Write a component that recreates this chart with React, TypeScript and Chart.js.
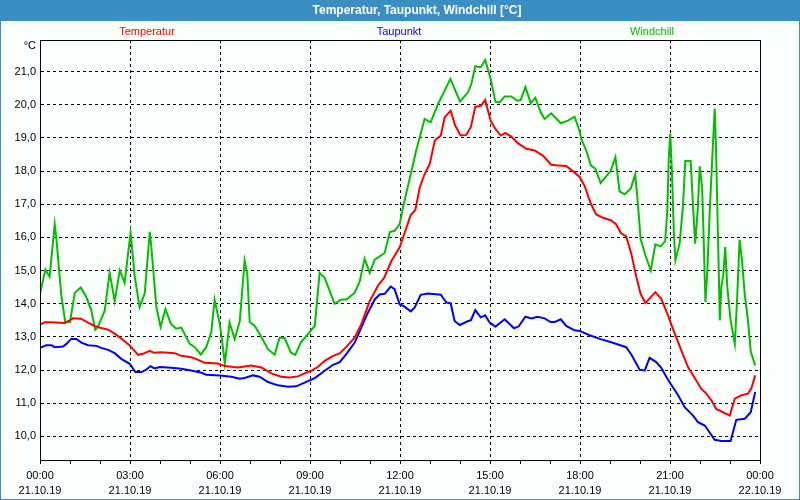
import React, { useEffect, useRef } from "react";
import { Chart, registerables } from "chart.js";

Chart.register(...registerables);

const chartTitle = "Temperatur, Taupunkt, Windchill [°C]";
const seriesNames = ["Temperatur", "Taupunkt", "Windchill"];
const unitLabel = "°C";
const dayStart = "21.10.19";
const dayEnd = "22.10.19";

const tempHours = [0, 0.16, 0.38, 0.82, 0.99, 1.1, 1.36, 1.6, 1.82, 2.04, 2.27, 2.49, 2.71, 2.99, 3.16, 3.27, 3.43, 3.66, 3.8, 4.04, 4.49, 4.71, 5.04, 5.27, 5.49, 5.93, 6.16, 6.6, 7.04, 7.38, 7.71, 8.04, 8.32, 8.6, 8.82, 9.04, 9.27, 9.49, 9.77, 9.99, 10.21, 10.49, 10.71, 10.99, 11.27, 11.47, 11.71, 11.99, 12.16, 12.36, 12.51, 12.66, 12.82, 12.99, 13.16, 13.36, 13.49, 13.69, 13.84, 14.02, 14.21, 14.36, 14.51, 14.69, 14.84, 15.02, 15.18, 15.36, 15.51, 15.71, 15.93, 16.21, 16.49, 16.77, 17.04, 17.27, 17.54, 17.77, 17.99, 18.16, 18.36, 18.54, 18.77, 19.04, 19.21, 19.36, 19.54, 19.71, 19.88, 20.02, 20.18, 20.36, 20.51, 20.71, 20.91, 21.16, 21.38, 21.6, 21.82, 22.04, 22.21, 22.38, 22.54, 22.77, 22.99, 23.16, 23.38, 23.6, 23.71, 23.84];
const tempValues = [13.37, 13.44, 13.44, 13.42, 13.5, 13.56, 13.55, 13.43, 13.33, 13.27, 13.22, 13.1, 12.95, 12.74, 12.57, 12.46, 12.49, 12.58, 12.52, 12.54, 12.51, 12.43, 12.39, 12.31, 12.22, 12.2, 12.12, 12.08, 12.14, 12.08, 11.9, 11.8, 11.78, 11.81, 11.9, 11.98, 12.1, 12.28, 12.43, 12.5, 12.7, 12.98, 13.38, 14.08, 14.55, 14.78, 15.28, 15.7, 16.15, 16.68, 16.82, 17.51, 17.91, 18.21, 18.92, 19.07, 19.62, 19.82, 19.37, 19.07, 19.09, 19.32, 19.94, 19.96, 20.14, 19.52, 19.27, 19.07, 19.15, 19.04, 18.84, 18.67, 18.62, 18.46, 18.19, 18.17, 18.15, 17.99, 17.82, 17.54, 17.02, 16.69, 16.59, 16.51, 16.39, 16.13, 16.03, 15.51, 14.8, 14.3, 14.02, 14.2, 14.35, 14.15, 13.7, 13.1, 12.59, 12.09, 11.77, 11.44, 11.29, 11.09, 10.83, 10.73, 10.63, 11.14, 11.24, 11.29, 11.44, 11.84];

const dewHours = [0, 0.21, 0.38, 0.49, 0.77, 0.88, 1.04, 1.21, 1.38, 1.6, 1.88, 2.04, 2.27, 2.49, 2.71, 2.99, 3.18, 3.38, 3.54, 3.68, 3.82, 3.99, 4.38, 4.71, 5.04, 5.38, 5.54, 5.99, 6.38, 6.66, 6.82, 7.1, 7.32, 7.6, 7.93, 8.27, 8.54, 8.82, 9.16, 9.49, 9.77, 9.99, 10.21, 10.49, 10.71, 10.93, 11.16, 11.32, 11.49, 11.69, 11.82, 11.99, 12.1, 12.36, 12.49, 12.69, 12.93, 13.36, 13.54, 13.69, 13.82, 13.99, 14.27, 14.36, 14.51, 14.69, 14.84, 14.99, 15.18, 15.49, 15.8, 15.96, 16.18, 16.38, 16.58, 16.82, 17.02, 17.16, 17.36, 17.54, 17.82, 17.99, 18.32, 18.66, 19.04, 19.54, 19.71, 19.99, 20.16, 20.32, 20.54, 20.71, 20.88, 21.02, 21.27, 21.49, 21.77, 21.93, 22.16, 22.49, 22.71, 23.02, 23.21, 23.49, 23.69, 23.84];
const dewValues = [12.67, 12.75, 12.75, 12.69, 12.71, 12.79, 12.94, 12.94, 12.83, 12.75, 12.73, 12.67, 12.61, 12.51, 12.34, 12.19, 11.94, 11.94, 12.01, 12.12, 12.05, 12.09, 12.07, 12.04, 11.99, 11.92, 11.86, 11.84, 11.8, 11.74, 11.76, 11.84, 11.8, 11.64, 11.54, 11.5, 11.51, 11.62, 11.76, 11.98, 12.16, 12.24, 12.48, 12.83, 13.28, 13.73, 14.13, 14.28, 14.3, 14.52, 14.44, 13.98, 13.94, 13.77, 13.89, 14.27, 14.31, 14.27, 14.04, 14.01, 13.48, 13.36, 13.48, 13.5, 13.81, 13.59, 13.65, 13.43, 13.31, 13.53, 13.26, 13.32, 13.61, 13.56, 13.61, 13.56, 13.45, 13.45, 13.53, 13.33, 13.2, 13.18, 13.05, 12.94, 12.84, 12.69, 12.47, 12.01, 11.99, 12.37, 12.24, 12.07, 11.79, 11.59, 11.24, 10.88, 10.63, 10.43, 10.33, 9.9, 9.86, 9.86, 10.5, 10.53, 10.73, 11.34];

const chillHours = [0, 0.18, 0.32, 0.49, 0.54, 0.71, 0.84, 1.0, 1.16, 1.36, 1.54, 1.71, 1.84, 1.93, 2.16, 2.32, 2.49, 2.66, 2.82, 3.02, 3.16, 3.32, 3.49, 3.66, 3.71, 3.88, 4.02, 4.18, 4.36, 4.54, 4.71, 4.99, 5.16, 5.36, 5.54, 5.71, 5.82, 5.99, 6.07, 6.16, 6.32, 6.49, 6.66, 6.82, 6.91, 6.99, 7.16, 7.38, 7.6, 7.82, 7.99, 8.16, 8.36, 8.51, 8.69, 8.93, 9.16, 9.32, 9.49, 9.82, 10.04, 10.21, 10.49, 10.66, 10.82, 10.99, 11.16, 11.49, 11.66, 11.82, 11.99, 12.1, 12.36, 12.54, 12.82, 13.02, 13.27, 13.68, 14.0, 14.27, 14.38, 14.51, 14.69, 14.84, 15.02, 15.18, 15.32, 15.49, 15.71, 15.91, 16.02, 16.18, 16.36, 16.51, 16.69, 16.82, 17.04, 17.36, 17.6, 17.82, 17.99, 18.04, 18.21, 18.36, 18.51, 18.69, 19.02, 19.18, 19.32, 19.49, 19.69, 19.84, 19.93, 20.02, 20.18, 20.36, 20.51, 20.69, 20.84, 20.91, 20.96, 21.01, 21.07, 21.13, 21.18, 21.32, 21.43, 21.51, 21.69, 21.77, 21.84, 21.93, 21.99, 22.07, 22.13, 22.18, 22.24, 22.32, 22.4, 22.49, 22.53, 22.6, 22.66, 22.71, 22.78, 22.84, 22.91, 23.02, 23.16, 23.24, 23.32, 23.4, 23.49, 23.6, 23.69, 23.84];
const chillValues = [14.3, 15.03, 14.81, 16.4, 16.02, 14.26, 13.45, 13.45, 14.33, 14.49, 14.21, 13.8, 13.22, 13.3, 13.8, 14.93, 14.08, 15.01, 14.63, 16.14, 14.81, 13.9, 14.31, 16.17, 15.72, 13.9, 13.3, 13.84, 13.4, 13.25, 13.28, 12.79, 12.69, 12.47, 12.69, 13.15, 14.12, 13.4, 12.88, 12.2, 13.43, 12.93, 13.48, 15.3, 14.88, 13.45, 13.33, 13.0, 12.63, 12.46, 12.98, 12.96, 12.53, 12.46, 12.83, 13.08, 13.33, 14.93, 14.78, 14.0, 14.13, 14.13, 14.33, 14.68, 15.36, 14.93, 15.33, 15.53, 16.16, 16.2, 16.4, 16.91, 17.91, 18.62, 19.57, 19.47, 20.02, 20.78, 20.09, 20.38, 20.63, 21.16, 21.13, 21.35, 20.78, 20.09, 20.07, 20.25, 20.25, 20.12, 20.14, 20.53, 20.04, 20.21, 19.77, 19.57, 19.74, 19.44, 19.52, 19.64, 19.2, 18.97, 18.62, 18.17, 18.07, 17.64, 18.0, 18.42, 17.39, 17.3, 17.47, 17.9, 17.02, 15.96, 15.46, 15.0, 15.79, 15.73, 15.89, 16.81, 18.42, 19.13, 17.82, 16.11, 15.31, 15.81, 16.91, 18.3, 18.3, 16.91, 15.81, 16.91, 18.14, 17.52, 15.71, 14.05, 14.9, 16.71, 18.22, 19.88, 18.82, 16.01, 13.5, 14.5, 14.9, 15.71, 14.5, 13.5, 12.79, 14.2, 15.93, 15.31, 14.3, 13.5, 12.57, 12.14];

const seriesColors = ["#ff0000", "#0000ff", "#00c000"];

function hourLabel(v: number): string[] | string {
  if (v % 3 !== 0) return "";
  const h = v % 24;
  const hh = (h < 10 ? "0" : "") + h + ":00";
  return [hh, v >= 24 ? dayEnd : dayStart];
}

function toPoints(xs: number[], ys: number[]) {
  return xs.map((x, i) => ({ x, y: ys[i] }));
}

const framePlugin = {
  id: "framePlugin",
  beforeDraw(chart: any) {
    const { ctx, width, height } = chart;
    ctx.save();
    ctx.fillStyle = "#3b8ec3";
    ctx.fillRect(0, 0, width, height);
    ctx.fillStyle = "#fbfffb";
    ctx.fillRect(1, 21, width - 2, height - 22);
    ctx.fillStyle = "#ffffff";
    ctx.font = "bold 12px 'Liberation Sans', Arial, sans-serif";
    ctx.textAlign = "center";
    ctx.textBaseline = "middle";
    ctx.fillText(chartTitle, 417, 11);
    ctx.restore();
  },
  afterDraw(chart: any) {
    const { ctx, chartArea } = chart;
    ctx.save();
    ctx.strokeStyle = "#000000";
    ctx.lineWidth = 1;
    ctx.beginPath();
    ctx.moveTo(chartArea.left + 0.5, chartArea.bottom + 0.5);
    ctx.lineTo(chartArea.left + 0.5, chartArea.top + 0.5);
    ctx.lineTo(chartArea.right + 0.5, chartArea.top + 0.5);
    ctx.lineTo(chartArea.right + 0.5, chartArea.bottom + 0.5);
    ctx.stroke();
    ctx.font = "11px 'Liberation Sans', Arial, sans-serif";
    ctx.textBaseline = "middle";
    ctx.textAlign = "right";
    ctx.fillStyle = "#000000";
    ctx.fillText(unitLabel, 36, 46);
    ctx.textAlign = "center";
    const centers = [147, 399, 652];
    seriesNames.forEach((n, i) => {
      ctx.fillStyle = seriesColors[i];
      ctx.fillText(n, centers[i], 32);
    });
    ctx.restore();
  },
};

export default function App() {
  const ref = useRef<HTMLCanvasElement | null>(null);
  useEffect(() => {
    if (!ref.current) return;
    const chart = new Chart(ref.current, {
      type: "line",
      data: {
        datasets: [
          { label: seriesNames[0], data: toPoints(tempHours, tempValues), borderColor: seriesColors[0] },
          { label: seriesNames[1], data: toPoints(dewHours, dewValues), borderColor: seriesColors[1] },
          { label: seriesNames[2], data: toPoints(chillHours, chillValues), borderColor: seriesColors[2] },
        ].map((d) => ({ ...d, borderWidth: 2, pointRadius: 0, tension: 0, fill: false })),
      },
      options: {
        animation: false,
        responsive: false,
        devicePixelRatio: 1,
        layout: { padding: { top: 40, right: 40, left: 0, bottom: 0 } },
        plugins: { legend: { display: false }, title: { display: false }, tooltip: { enabled: false } },
        scales: {
          x: {
            type: "linear",
            min: 0,
            max: 24,
            afterFit: (s: any) => { s.height = 40; },
            ticks: {
              stepSize: 1,
              autoSkip: false,
              maxRotation: 0,
              includeBounds: false,
              color: "#000000",
              padding: 4,
              font: { family: "'Liberation Sans', Arial, sans-serif", size: 11, lineHeight: 1.4 },
              callback: (v: any) => hourLabel(Number(v)),
            },
            grid: {
              color: (c: any) => (c.tick && c.tick.value % 3 === 0 ? "#000000" : "rgba(0,0,0,0)"),
              tickColor: "#000000",
              tickLength: 4,
              lineWidth: 1,
            },
            border: { display: true, color: "#000000", width: 1, dash: [3, 3] },
          },
          y: {
            type: "linear",
            min: 9.29,
            max: 21.95,
            afterFit: (s: any) => { s.width = 40; },
            ticks: {
              stepSize: 1,
              includeBounds: false,
              color: "#000000",
              padding: 4,
              font: { family: "'Liberation Sans', Arial, sans-serif", size: 11 },
              callback: (v: any) => Number(v).toFixed(1).replace(".", ","),
            },
            grid: { color: "#000000", drawTicks: false, lineWidth: 1 },
            border: { display: true, color: "#000000", width: 1, dash: [3, 3] },
          },
        },
      },
      plugins: [framePlugin],
    } as any);
    return () => chart.destroy();
  }, []);
  return (
    <div style={{ position: "absolute", left: 0, top: 0, width: 800, height: 500 }}>
      <canvas ref={ref} width={800} height={500} style={{ display: "block" }} />
    </div>
  );
}
